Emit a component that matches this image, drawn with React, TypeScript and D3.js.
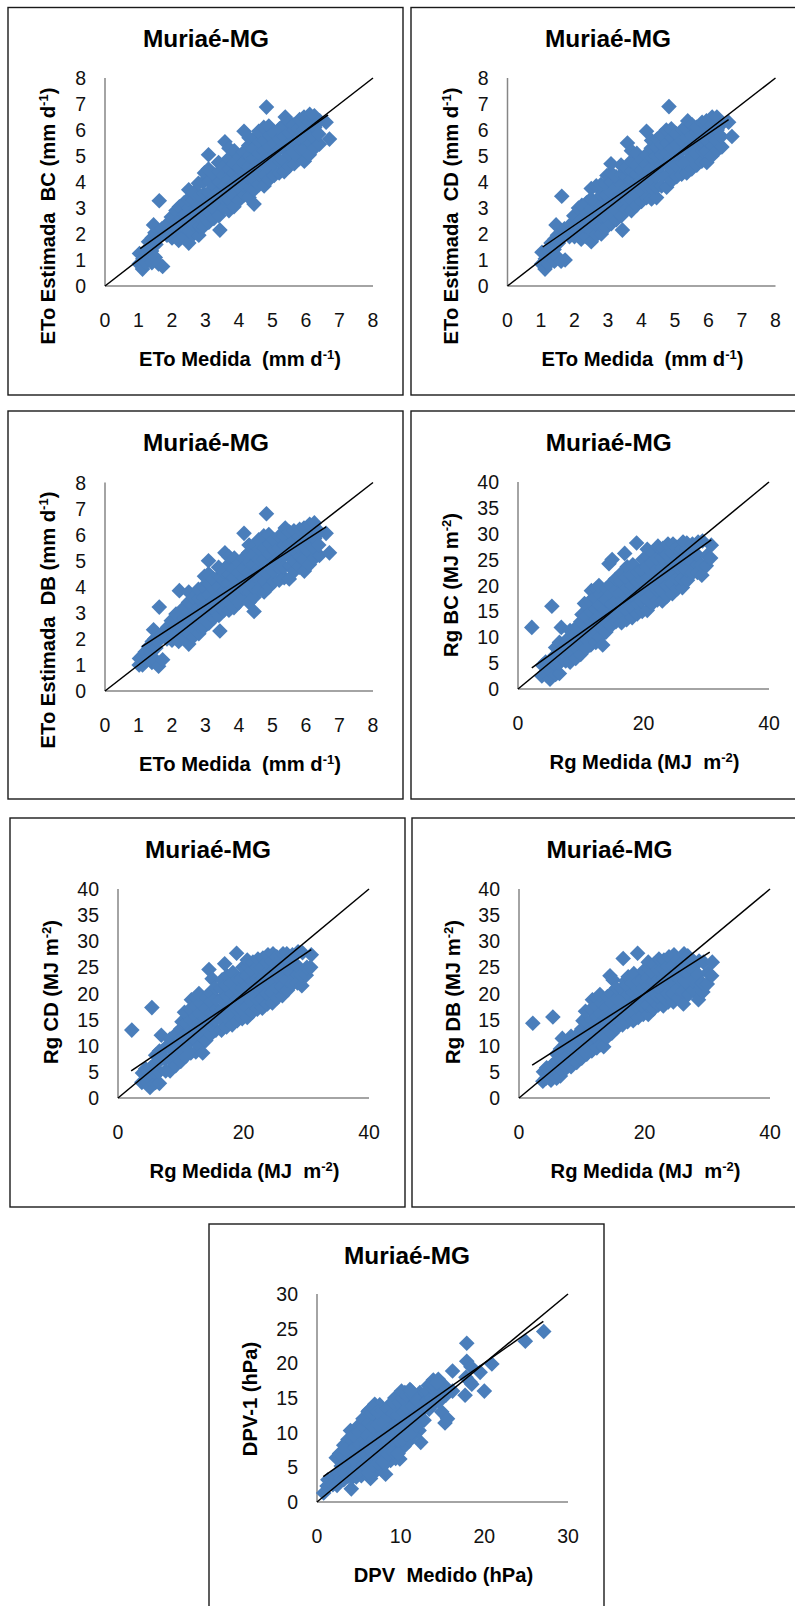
import React from "react";
import * as d3 from "d3";

const title = "Muriaé-MG";
const etoTicks = [0, 1, 2, 3, 4, 5, 6, 7, 8];
const rgTicksX = [0, 20, 40];
const rgTicksY = [0, 5, 10, 15, 20, 25, 30, 35, 40];
const dpvTicksX = [0, 10, 20, 30];
const dpvTicksY = [0, 5, 10, 15, 20, 25, 30];

const etoMeasured = [
  1.02,1.03, 1.12,1.13, 1.2,1.22, 1.3,1.31, 1.4,1.41,1.39, 1.5,1.52,1.49, 1.45, 1.62,1.6,1.58, 1.72,1.7, 1.85,1.87, 2.0,2.02,1.98, 2.1,2.12, 2.2,2.18,2.22, 2.35,2.33,2.37,2.36,
  2.5,2.52,2.48,2.5,2.49,2.5, 2.65,2.63,2.66,2.64,2.65, 2.8,2.82,2.78,2.8,2.81,2.79, 2.95,2.93,2.96,2.95,2.94,2.97, 3.1,3.12,3.08,3.1,3.11,3.09,3.09, 3.25,3.23,3.26,3.25,3.24,
  3.4,3.42,3.38,3.4,3.41,3.39, 3.43, 3.55,3.53,3.56,3.55,3.54,3.58, 3.7,3.72,3.68,3.7,3.71,3.69,3.7, 3.85,3.83,3.86,3.85,3.84,3.86, 4.0,4.02,3.98,4.0,4.01,
  4.15,4.13,4.16,4.15,4.14,4.15, 4.3,4.32,4.28,4.3,4.31,4.29,4.3, 4.45,4.45,4.43,4.46,4.45,4.44,4.47, 4.6,4.62,4.58,4.6,4.61,4.59, 4.75,4.77,4.73,4.75,4.76,4.74, 4.82, 4.9,4.92,4.88,4.9,4.91,4.89,
  5.05,5.03,5.06,5.05,5.04, 5.2,5.22,5.18,5.2,5.21, 5.35,5.33,5.36,5.35,5.34,5.38, 5.5,5.52,5.48,5.5,5.51, 5.65,5.63,5.66,5.65,5.64, 5.8,5.82,5.78,5.8,5.81,
  5.95,5.93,5.96,5.95,5.94, 6.1,6.12,6.08,6.1,6.11, 6.25,6.23,6.26,6.25, 6.4,6.38,6.41, 6.6, 6.7,
];
const etoBC = [
  .85,1.25, .65,1.05, 1.35,.9, 1.7,1.15, .9,1.85,1.35, 1.1,1.6,2.05, 2.35, 3.28,.85,1.85, .75,2.2, 1.95,2.4, 1.85,2.25,2.65, 2.05,2.9, 1.75,2.45,3.05, 1.9,2.3,2.75,3.2,
  1.65,2.1,2.55,3.0,3.35,3.7, 2.0,2.4,2.85,3.3,3.6, 1.95,2.3,2.7,3.1,3.5,3.95, 2.3,2.7,3.15,3.55,4.0,4.35, 2.45,2.85,3.2,3.6,4.05,4.5,5.05, 2.6,3.0,3.45,3.85,4.3,
  2.7,3.15,3.6,4.0,4.4,4.75, 2.15, 3.0,3.4,3.85,4.25,4.6,5.55, 2.9,3.3,3.7,4.1,4.5,4.9,5.3, 3.05,3.5,3.95,4.35,4.7,5.2, 3.3,3.75,4.15,4.55,4.95,
  3.5,3.9,4.35,4.75,5.15,5.95, 3.4,3.8,4.2,4.6,5.0,5.4,5.7, 3.15,3.7,4.1,4.5,4.9,5.3,5.7, 3.9,4.3,4.7,5.1,5.55,5.95, 3.85,4.3,4.75,5.2,5.6,6.1, 6.88, 4.1,4.5,4.95,5.35,5.8,6.15,
  4.25,4.7,5.1,5.5,5.9, 4.35,4.8,5.25,5.65,6.05, 4.4,4.85,5.3,5.75,6.2,6.5, 4.6,5.05,5.45,5.9,6.3, 4.7,5.15,5.6,6.0,6.2, 4.9,5.3,5.7,6.1,6.4,
  4.8,5.25,5.65,6.05,6.5, 5.05,5.5,5.9,6.3,6.6, 5.3,5.7,6.1,6.55, 5.45,5.85,6.35, 6.3, 5.65,
];
const etoCD = [
  .85,1.3, .65,1.05, 1.4,.85, 1.65,1.2, .95,1.8,1.4, 1.1,1.65,1.95, 2.35, 3.45,.95,1.85, 1.0,2.2, 1.9,2.35, 1.9,2.3,2.7, 2.1,3.0, 1.8,2.5,3.1, 1.9,2.3,2.8,3.2,
  1.7,2.1,2.5,2.95,3.35,3.75, 1.95,2.4,2.8,3.25,3.85, 2.0,2.3,2.7,3.1,3.5,3.9, 2.25,2.65,3.1,3.5,3.9,4.25, 2.4,2.8,3.2,3.6,4.0,4.35,4.7, 2.55,2.95,3.4,3.8,4.2,
  2.7,3.1,3.5,3.9,4.3,4.65, 2.15, 2.95,3.35,3.8,4.2,4.55,5.5, 2.9,3.3,3.7,4.1,4.45,4.8,5.2, 3.1,3.5,3.9,4.3,4.65,5.1, 3.25,3.65,4.05,4.45,4.85,
  3.4,3.85,4.25,4.65,5.05,5.95, 3.35,3.75,4.15,4.55,4.95,5.3,5.6, 3.4,3.8,4.2,4.6,5.0,5.35,5.65, 3.85,4.25,4.65,5.05,5.45,5.8, 3.8,4.25,4.7,5.1,5.5,6.0, 6.9, 4.05,4.45,4.9,5.3,5.7,6.05,
  4.2,4.65,5.05,5.45,5.85, 4.3,4.75,5.2,5.6,6.0, 4.35,4.8,5.25,5.7,6.05,6.35, 4.5,4.95,5.4,5.8,6.2, 4.65,5.1,5.5,5.9,6.1, 4.8,5.2,5.6,6.0,6.3,
  4.75,5.2,5.6,6.0,6.35, 5.0,5.4,5.8,6.2,6.5, 5.2,5.6,6.0,6.5, 5.35,5.75,6.25, 6.3, 5.75,
];
const etoDB = [
  1.0,1.25, 1.0,1.3, 1.5,1.15, 1.7,1.3, 1.1,1.9,1.5, 1.2,1.65,2.0, 2.35, 3.22,.95,1.9, 1.2,2.2, 2.0,2.45, 1.95,2.3,2.7, 2.1,2.95, 1.9,2.5,3.85, 2.05,2.4,2.8,3.2,
  1.8,2.2,2.6,3.0,3.4,3.8, 2.1,2.45,2.9,3.3,3.6, 2.2,2.5,2.85,3.2,3.55,3.9, 2.45,2.8,3.2,3.6,4.0,4.4, 2.6,2.95,3.3,3.7,4.1,4.5,5.0, 2.8,3.15,3.5,3.9,4.3,
  2.9,3.25,3.65,4.0,4.4,4.75, 2.3, 3.1,3.45,3.85,4.25,4.6,5.3, 3.1,3.4,3.8,4.15,4.5,4.85,5.15, 3.2,3.6,4.0,4.35,4.7,5.1, 3.4,3.8,4.15,4.55,4.9,
  3.6,3.95,4.35,4.7,5.1,6.05, 3.4,3.8,4.2,4.55,4.95,5.3,5.6, 3.05,3.6,4.0,4.45,4.85,5.25,5.6, 3.9,4.3,4.7,5.05,5.45,5.8, 3.8,4.2,4.65,5.05,5.5,5.95, 6.8, 4.0,4.45,4.85,5.25,5.65,6.0,
  4.2,4.6,5.0,5.4,5.8, 4.25,4.7,5.1,5.5,5.95, 4.35,4.75,5.2,5.6,5.95,6.25, 4.3,4.8,5.25,5.65,6.1, 4.6,5.0,5.4,5.8,6.15, 4.75,5.15,5.55,5.9,6.2,
  4.6,5.05,5.5,5.85,6.25, 4.85,5.3,5.7,6.05,6.4, 5.1,5.5,5.85,6.45, 5.2,5.6,6.1, 6.05, 5.3,
];

const rgMeasured = [
  2.2, 3.8,3.9, 4.3,4.4, 5.1,5.0,5.2, 5.4, 6.0,6.1,5.9,6.0, 6.6,6.5,6.7,6.6, 6.9, 7.6,7.5,7.7, 8.3,8.4,8.2,8.3, 9.2,9.1,9.3,9.2,
  10,10.1,9.9,10,10.2, 10.8,10.7,10.9,10.8,10.6, 11.6,11.5,11.7,11.6,11.5,11.7, 12.4,12.3,12.5,12.4,12.3,12.5, 13,13.1,12.9,13,13.1,12.9, 13.5,
  14,14.1,13.9,14,14.1,14.5, 14.8,14.7,14.9,14.8,14.7,15, 15.6,15.5,15.7,15.6,15.5, 16.5,16.4,16.6,16.5,16.4,16.6, 17,
  17.3,17.2,17.4,17.3,17.2,17.4, 18.2,18.1,18.3,18.2,18.1,18.3, 18.9, 19,19.1,18.9,19,19.1, 19.8,19.7,19.9,19.8,19.7,19.9,
  20.6,20.5,20.7,20.6,20.5,20.7,20.6, 21.4,21.3,21.5,21.4,21.3,21.5, 22.2,22.1,22.3,22.2,22.1,22.3, 23,22.9,23.1,23,22.9,23.1,
  23.8,23.7,23.9,23.8,23.7,23.9, 24.6,24.5,24.7,24.6,24.5,24.7, 25.4,25.3,25.5,25.4,25.3, 26.2,26.1,26.3,26.2,26.1,26.3,
  27,26.9,27.1,27,26.9, 27.8,27.7,27.9,27.8, 28.6,28.5,28.7,28.6, 29.3,29.2,29.4, 30,30.1, 30.8,30.7,
];
const rgBC = [
  11.9, 2.5,4.6, 3.2,5.2, 1.9,3.6,5.4, 16, 2.8,4.4,6.5,8, 3,5,7.2,9, 11.9, 5.4,7.5,9.4, 5.2,7.2,9.8,11.3, 5.9,8.2,10.4,11.8,
  6.7,8.8,11,13,14.4, 7.8,9.8,12,14,16.5, 8.5,10.5,13,15,17,19, 9,11.4,13.5,15.6,17.7,19.4, 10,12,14,16.2,18.4,20, 8.5,
  11,13,15.2,17.3,19.4,24.2, 12.2,14.2,16.4,18.4,20.2,25, 13,15,17,19,21.2, 12.8,14.8,16.8,18.8,20.8,22.5, 26.2,
  13.4,15.4,17.6,19.6,21.6,23.6, 13.8,15.8,18,20,22,24, 28.2, 14.5,16.5,18.7,20.7,22.6, 15,17,19,21,23,25,
  15.2,17.4,19.5,21.5,23.6,25.6,27, 16.5,18.5,20.5,22.5,24.5,26.4, 17.2,19.2,21.2,23.2,25.2,27.6, 17,19,21.2,23.4,25.4,27.2,
  18,20,22,24,26,28, 18.4,20.4,22.4,24.4,26.4,28, 19.4,21.4,23.4,25.4,27.4, 19.6,21.4,23.4,25.4,27.2,28.4,
  21,23,25,27,28.2, 22.4,24.4,26.4,28, 24,26,28.4,22.5, 22,24,28.6, 23.8,25.8, 27.8,25.3,
];
const rgCD = [
  13, 3,4.8, 3.4,5.6, 2,3.6,5.8, 17.3, 3,4.6,6.6,8.2, 2.8,5,7.2,9, 12, 5.2,7.5,9.8, 5.2,7.2,9.6,11.3, 6.2,8.2,10.4,12.2,
  7,9,11.2,13.2,14.6, 8,10,12.2,14.2,16.4, 8.6,10.8,13,15,17,18.8, 8.8,11.2,13.4,15.6,17.6,19.2, 10,12,14.2,16.2,18.2,20, 8.6,
  11,13,15.2,17.2,19.2,24.6, 12.2,14.2,16.4,18.4,20.2,22.8, 13,15,17,19,21, 13,15,17,19,21,22.6, 25.7,
  13.6,15.6,17.6,19.6,21.6,23.4, 14,16,18,20,22,24, 27.7, 14.8,16.8,18.8,20.8,22.8, 15.2,17,19,21,23,25,
  15.4,17.4,19.4,21.4,23.4,25.2,26.4, 16.4,18.4,20.4,22.4,24.4,26, 17,19,21,23,25,26.6, 17.2,19,21,23,25,26.8,
  18,20,22,24,26,27.4, 18.2,20.2,22.2,24.2,26.2,27.6, 19.2,21.2,23.2,25.2,27, 19.6,21.4,23.2,25.2,26.8,27.6,
  20.6,22.6,24.6,26.4,27.6, 21.8,23.8,25.8,27.4, 23.6,25.4,28,22, 21.5,23.5,27.8, 23.5,25, 27.4,25,
];
const rgDB = [
  14.3, 3.2,5, 3.8,5.8, 3.4,4.8,6.2, 15.5, 3.8,5.2,7,8.4, 4.2,5.6,7.4,9.4, 11.4, 5.8,7.8,10, 6,7.6,9.8,11.8, 6.8,8.6,10.6,12,
  7.6,9.4,11.4,13.2,14.8, 8.4,10.2,12.2,14.4,16.6, 9,11,13,15,17,18.8, 9.6,11.6,13.6,15.6,17.6,19, 10.2,12.2,14.2,16.2,18.2,19.8, 9.8,
  11.6,13.4,15.4,17.4,19.4,23.4, 12.4,14.4,16.2,18.2,20,22.6, 13.4,15.2,17,19,21, 14,15.6,17.4,19.2,21,26.7, 22.4,
  14.6,16.2,18,19.8,21.6,23.2, 14.8,16.6,18.4,20.2,22,23.8, 27.7, 15.4,17.2,19,20.8,22.4, 16,17.6,19.4,21,22.8,24.4,
  16,17.8,19.6,21.4,23,24.8,26, 17,18.8,20.6,22.4,24,25.6, 17.8,19.4,21.2,22.8,24.6,26.6, 17.6,19.4,21.2,23,24.8,26.4,
  18.4,20,21.8,23.6,25.2,27, 18.4,20,22,23.8,25.4,27.4, 19.2,21,22.8,24.6,26.4, 18,20.4,22.4,24.4,26,27.6,
  19.8,21.8,23.6,25.4,27.2, 20.6,22.4,24.4,26.2, 22,23.6,26.2,18.8, 20.3,22,26, 21.8,24, 26,23.4,
];

const dpvMeasured = [
  0.8, 1.2,1.3, 1.9,2.0, 2.4,2.5,2.3, 2.8,2.9,2.7, 3.2,3.3,3.1,3.2, 3.7,3.8,3.6,3.7, 4.1,4.2,4.0,4.1,4.2,4.0, 4.7,4.8,4.6,4.7,4.8, 5.3,5.4,5.2,5.3,5.4, 5.8,5.9,5.7,5.8,5.9,
  6.4,6.5,6.3,6.4,6.5,6.3, 6.2, 7,7.1,6.9,7,7.1,6.9, 7.6,7.7,7.5,7.6,7.7,7.5, 8.2,8.3,8.1,8.2,8.3,8.1, 8.8,8.9,8.7,8.8,8.9, 9.4,9.5,9.3,9.4,9.5,9.3, 9.9,10,9.8,9.9,10,9.8,
  10.4,10.5,10.3,10.4,10.5, 11,11.1,10.9,11,11.1, 11.6,11.7,11.5,11.6, 12.4,12.2,12.1,12.2,12.3, 12.8,12.9,12.7, 13.4,13.5,13.3, 14,14.1,13.9, 14.6,14.7,14.5, 14.9,
  15.3,15.4,15.2, 15.6, 16.2,16.2, 17.7, 17.9,17.9,17.8, 18.4,18.3, 18.5, 19.5, 20, 20.9, 24.9, 27.1,
  3.4,3.5,3.4, 4.4,4.4,4.5,4.4, 5,5,5.1,5, 5.6,5.6,5.7,5.6,5.5, 6.1,6.1,6,6.1,6.2,6.1, 6.7,6.7,6.8,6.7,6.6,6.7, 7.3,7.3,7.4,7.3,7.2, 7.9,7.9,8,7.9,7.8,
  8.5,8.5,8.6,8.5,8.4, 9.1,9.1,9.2,9.1,9, 9.7,9.7,9.6,9.7,9.8, 10.2,10.2,10.3,10.2,10.1, 10.7,10.7,10.8,10.7, 11.3,11.3,11.4,11.3,11.2, 11.9,11.9,12, 13.1,13.2, 13.7,13.7,13.8, 14.3,14.3,
];
const dpvOne = [
  1.3, 2.3,3.2, 2.5,3.6, 2.4,4.3,6.4, 3.4,5.2,7, 3.2,5,6.6,8.2, 3.7,5.4,7.2,9, 1.9,3.5,5.2,7,8.8,10.3, 3.6,5.3,7.2,9,10.8, 3.8,5.6,7.5,9.4,11, 4.5,6.3,8.2,10,11.8,
  3.4,5.1,7,8.8,10.5,12.6, 13.2, 4.4,6.2,8.2,10,12,14.1, 4.8,6.8,8.6,10.5,12.4,14, 4,5.7,7.4,9.4,11.2,13, 6,8,9.8,11.6,13.4, 6.3,8.2,10,12,13.8,15, 6.2,7.8,9.6,11.4,13.2,15,
  8,10,12,14,15.8, 8.8,10.8,12.6,14.6,16.2, 9.8,11.6,13.4,15.4, 8.6,10.3,12.4,14,15.8, 11.8,13.6,15.4, 13.4,15,16.8, 14.2,15.8,17.6, 14.5,16.2,17.7, 13,
  11.4,15.4,16.8, 12, 16,18.9, 15.4, 22.9,20.3,18, 19.5,17.3, 17, 18.7, 16, 19.9, 23.2, 24.6,
  4.2,5.9,7.5, 4.4,6.1,7.9,9.6, 4.4,6.4,8.3,10, 5.4,7.2,9,10.8,12, 4.2,6,8,9.6,11.4,13, 5.3,7.1,9.1,10.9,12.8,13.6, 5.6,7.4,9.2,11.2,13, 5.8,7.6,9.5,11.4,13.2,
  6.9,8.8,10.6,12.4,13.6, 7.2,9,10.8,12.8,14.4, 7,8.9,10.8,12.6,14.4, 9,11,13,15,16, 9.8,11.8,13.6,15.4, 10,12,13.8,15.6,16.1, 11,12.8,14.6, 14.6,16, 15,16.6,17, 15.2,17.2,
];

type Config = {
  box: [number, number, number, number];
  plot: [number, number, number, number];
  xMax: number; yMax: number;
  xTicks: number[]; yTicks: number[];
  xs: number[]; ys: number[];
  fit: [number, number, number, number];
  xLabel: [string, string, string]; yLabel: [string, string, string];
  yTitleX: number; yTitleY: number; titleCx: number;
};

const MMD: [string, string, string] = ["ETo Medida  (mm d", "-1", ")"];
const MJ: [string, string, string] = ["Rg Medida (MJ  m", "-2", ")"];

const panels: Config[] = [
  { box: [8, 7.5, 403, 395], plot: [105, 286, 373, 78], xMax: 8, yMax: 8, xTicks: etoTicks, yTicks: etoTicks, xs: etoMeasured, ys: etoBC, fit: [1.05, 1.44, 6.66, 6.58], xLabel: MMD, yLabel: ["ETo Estimada  BC (mm d", "-1", ")"], yTitleX: 55, yTitleY: 216, titleCx: 206 },
  { box: [411, 7.5, 800, 395], plot: [507.5, 286, 775.5, 78], xMax: 8, yMax: 8, xTicks: etoTicks, yTicks: etoTicks, xs: etoMeasured, ys: etoCD, fit: [1.05, 1.5, 6.6, 6.4], xLabel: MMD, yLabel: ["ETo Estimada  CD (mm d", "-1", ")"], yTitleX: 458, yTitleY: 216, titleCx: 608 },
  { box: [8, 411, 403, 799], plot: [105, 691, 373, 482.5], xMax: 8, yMax: 8, xTicks: etoTicks, yTicks: etoTicks, xs: etoMeasured, ys: etoDB, fit: [1.1, 1.7, 6.6, 6.3], xLabel: MMD, yLabel: ["ETo Estimada  DB (mm d", "-1", ")"], yTitleX: 55, yTitleY: 620, titleCx: 206 },
  { box: [411, 411, 800, 799], plot: [518, 689, 769, 482], xMax: 40, yMax: 40, xTicks: rgTicksX, yTicks: rgTicksY, xs: rgMeasured, ys: rgBC, fit: [2.2, 4.1, 30.8, 28.8], xLabel: MJ, yLabel: ["Rg BC (MJ m", "-2", ")"], yTitleX: 458, yTitleY: 585, titleCx: 608.7 },
  { box: [10, 818, 405, 1207], plot: [118, 1098, 369, 889], xMax: 40, yMax: 40, xTicks: rgTicksX, yTicks: rgTicksY, xs: rgMeasured, ys: rgCD, fit: [2.1, 5.2, 30.8, 28.4], xLabel: MJ, yLabel: ["Rg CD (MJ m", "-2", ")"], yTitleX: 58, yTitleY: 992, titleCx: 208 },
  { box: [412, 818, 800, 1207], plot: [519, 1098, 770, 889], xMax: 40, yMax: 40, xTicks: rgTicksX, yTicks: rgTicksY, xs: rgMeasured, ys: rgDB, fit: [2.1, 6.3, 30.4, 27.9], xLabel: MJ, yLabel: ["Rg DB (MJ m", "-2", ")"], yTitleX: 460, yTitleY: 992, titleCx: 609.5 },
  { box: [209, 1224, 604, 1640], plot: [317, 1502, 568, 1294], xMax: 30, yMax: 30, xTicks: dpvTicksX, yTicks: dpvTicksY, xs: dpvMeasured, ys: dpvOne, fit: [0.75, 3.65, 27.05, 26.05], xLabel: ["DPV  Medido (hPa)", "", ""], yLabel: ["DPV-1 (hPa)", "", ""], yTitleX: 256.5, yTitleY: 1399, titleCx: 407 },
];

const FONT = "'Liberation Sans', Arial, sans-serif";
const BLUE = "#4A7EBB";
const diamond = d3.symbol().type(d3.symbolSquare).size(122)() as string;

function Label({ parts, ...rest }: { parts: [string, string, string] } & any) {
  return (
    <text {...rest} fontFamily={FONT} fontWeight="bold" fontSize={20.2} textAnchor="middle" fill="#000" style={{ whiteSpace: "pre" }}>
      <tspan>{parts[0]}</tspan>
      {parts[1] ? <tspan dy={-7} fontSize={13}>{parts[1]}</tspan> : null}
      {parts[2] ? <tspan dy={parts[1] ? 7 : 0}>{parts[2]}</tspan> : null}
    </text>
  );
}

function Panel({ c }: { c: Config }) {
  const [bx0, by0, bx1, by1] = c.box;
  const [px0, py0, px1, py1] = c.plot;
  const x = d3.scaleLinear().domain([0, c.xMax]).range([px0, px1]);
  const y = d3.scaleLinear().domain([0, c.yMax]).range([py0, py1]);
  const line = d3.line<[number, number]>().x((d) => x(d[0])).y((d) => y(d[1]));
  const oneToOne = line([[0, 0], [c.xMax, c.yMax]]) as string;
  const fit = line([[c.fit[0], c.fit[1]], [c.fit[2], c.fit[3]]]) as string;
  return (
    <g>
      <rect x={bx0} y={by0} width={bx1 - bx0} height={by1 - by0} fill="#fff" stroke="#1a1a1a" strokeWidth={1.4} />
      <text x={c.titleCx} y={by0 + 39.5} textAnchor="middle" fontFamily={FONT} fontWeight="bold" fontSize={24.4} fill="#000">{title}</text>
      <line x1={px0} x2={px0} y1={py0} y2={py1} stroke="#868686" strokeWidth={1.5} />
      <line x1={px0} x2={px1} y1={py0} y2={py0} stroke="#868686" strokeWidth={1.5} />
      {c.yTicks.map((t) => (
        <text key={t} x={px0 - 19} y={y(t) + 7} textAnchor="end" fontFamily={FONT} fontSize={19.5} fill="#111">{t}</text>
      ))}
      {c.xTicks.map((t) => (
        <text key={t} x={x(t)} y={py0 + 40.5} textAnchor="middle" fontFamily={FONT} fontSize={19.5} fill="#111">{t}</text>
      ))}
      <g fill={BLUE}>
        {c.xs.map((v, i) => (
          <path key={i} d={diamond} transform={`translate(${x(v)},${y(c.ys[i])}) rotate(45)`} />
        ))}
      </g>
      <path d={oneToOne} fill="none" stroke="#000" strokeWidth={1.5} />
      <path d={fit} fill="none" stroke="#000" strokeWidth={1.5} />
      <Label parts={c.xLabel} x={(px0 + px1) / 2 + 1} y={py0 + 80} />
      <Label parts={c.yLabel} transform={`translate(${c.yTitleX},${c.yTitleY}) rotate(-90)`} />
    </g>
  );
}

export default function App() {
  return (
    <svg width={795} height={1606} viewBox="0 0 795 1606" style={{ position: "absolute", left: 0, top: 0, background: "#fff" }}>
      {panels.map((c, i) => <Panel key={i} c={c} />)}
    </svg>
  );
}
